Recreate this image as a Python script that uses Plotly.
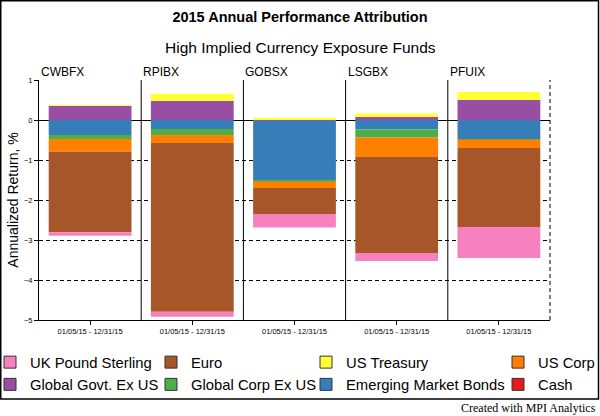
import plotly.graph_objects as go

# --- data (annualized return contribution, %) ---
funds = ["CWBFX", "RPIBX", "GOBSX", "LSGBX", "PFUIX"]
periods = ["01/05/15 - 12/31/15"] * 5

global_govt = [0.35, 0.475, -0.02, 0.075, 0.50]
emerging = [-0.375, -0.225, -1.50, -0.24, -0.475]
global_corp = [-0.10, -0.15, -0.02, -0.20, -0.01]
us_corp = [-0.32, -0.20, -0.16, -0.485, -0.215]
euro = [-2.01, -4.22, -0.65, -2.40, -1.975]
uk_pound = [-0.09, -0.125, -0.34, -0.20, -0.775]
us_treasury = [0.02, 0.18, 0.05, 0.085, 0.20]
cash = [0, 0, 0, 0, 0]

FONT = "Liberation Sans, Arial, sans-serif"
DASH = "4px,3px"

# plot area in pixels: x 39..550, y 80..320
L, R, T, B = 39, 50, 80, 96
PW, PH = 600 - L - R, 416 - T - B


def px(x):
    return (x - L) / PW


def py(y):
    return (T + PH - y) / PH


# stacking order (trace order) : name, values, colour
series = [
    ("Global Govt. Ex US", global_govt, "#984EA3"),
    ("Emerging Market Bonds", emerging, "#377EB8"),
    ("Global Corp Ex US", global_corp, "#4DAF4A"),
    ("US Corp", us_corp, "#FF7F00"),
    ("Euro", euro, "#A65628"),
    ("UK Pound Sterling", uk_pound, "#F781BF"),
    ("US Treasury", us_treasury, "#FFFF33"),
    ("Cash", cash, "#E41A1C"),
]
colors = {name: c for name, _, c in series}

fig = go.Figure()
for name, vals, c in series:
    fig.add_trace(go.Bar(x=funds, y=vals, name=name, width=0.81,
                         marker=dict(color=c, line=dict(width=0)),
                         showlegend=False))

# legend: four columns of two entries
legend_cols = [
    ["UK Pound Sterling", "Global Govt. Ex US"],
    ["Euro", "Global Corp Ex US"],
    ["US Treasury", "Emerging Market Bonds"],
    ["US Corp", "Cash"],
]
swatch_left = [4, 165, 320, 512]
legend_layout = {}
for i, col in enumerate(legend_cols):
    key = "legend" if i == 0 else "legend%d" % (i + 1)
    for rank, name in enumerate(col):
        fig.add_trace(go.Bar(x=[None], y=[None], name=name, legend=key,
                             legendrank=rank + 1,
                             marker=dict(color=colors[name],
                                         line=dict(color="#333333", width=1))))
    legend_layout[key] = dict(
        x=px(swatch_left[i] - 14), xanchor="left",
        y=py(346), yanchor="top",
        orientation="v", bgcolor="rgba(0,0,0,0)",
        font=dict(family=FONT, size=14.8, color="black"),
        tracegroupgap=0, itemclick=False, itemdoubleclick=False)

shapes = []
# panel dividers
for i in range(len(funds) - 1):
    shapes.append(dict(type="line", xref="x", yref="paper", x0=i + 0.5, x1=i + 0.5,
                       y0=0, y1=1, line=dict(color="black", width=1)))
# dashed right edge
shapes.append(dict(type="line", xref="paper", yref="paper", x0=1, x1=1, y0=0, y1=1,
                   line=dict(color="black", width=1, dash=DASH)))
# outer frame
shapes.append(dict(type="rect", xref="paper", yref="paper",
                   x0=px(0.75), x1=px(598.5), y0=py(399), y1=py(0.75),
                   line=dict(color="black", width=1.5), layer="below"))

annotations = [
    dict(text="High Implied Currency Exposure Funds", xref="paper", yref="paper",
         x=px(300), y=py(47), xanchor="center", yanchor="middle", showarrow=False,
         font=dict(family=FONT, size=15.5, color="black")),
    dict(text="Created with MPI Analytics", xref="paper", yref="paper",
         x=px(598), y=py(408), xanchor="right", yanchor="middle", showarrow=False,
         font=dict(family="Liberation Serif, Times New Roman, serif", size=12,
                   color="black")),
]
for i, f in enumerate(funds):
    annotations.append(dict(text=f, xref="x", yref="paper", x=i - 0.5, y=py(72),
                            xanchor="left", yanchor="middle", showarrow=False,
                            font=dict(family=FONT, size=12, color="black")))

fig.update_layout(
    width=600, height=416,
    margin=dict(l=L, r=R, t=T, b=B, autoexpand=False),
    paper_bgcolor="white", plot_bgcolor="white",
    barmode="relative", bargap=0.19,
    font=dict(family=FONT, color="black"),
    title=dict(text="<b>2015 Annual Performance Attribution</b>",
               xref="container", yref="container", x=0.5, y=1 - 17 / 416,
               xanchor="center", yanchor="middle",
               font=dict(family=FONT, size=14.5, color="black")),
    xaxis=dict(type="category", range=[-0.5, 4.5], tickmode="array",
               tickvals=funds, ticktext=periods, showgrid=False,
               showline=True, linecolor="black", linewidth=1,
               ticks="outside", ticklen=4, tickcolor="black",
               tickfont=dict(family=FONT, size=7.5, color="black")),
    yaxis=dict(range=[-5, 1], dtick=1, tick0=0, showgrid=True, gridcolor="black",
               gridwidth=1, griddash=DASH, zeroline=True, zerolinecolor="black",
               zerolinewidth=1, showline=True, linecolor="black", linewidth=1,
               ticks="outside", ticklen=4, tickcolor="black",
               tickfont=dict(family=FONT, size=7.5, color="black"),
               title=dict(text="Annualized Return, %", standoff=2,
                          font=dict(family=FONT, size=14, color="black"))),
    shapes=shapes,
    annotations=annotations,
    **legend_layout,
)

# the page's default body margin would push the 600x416 figure off the window
fig.write_html("out.html", config={"displayModeBar": False},
               post_script="document.body.style.margin='0px';")
